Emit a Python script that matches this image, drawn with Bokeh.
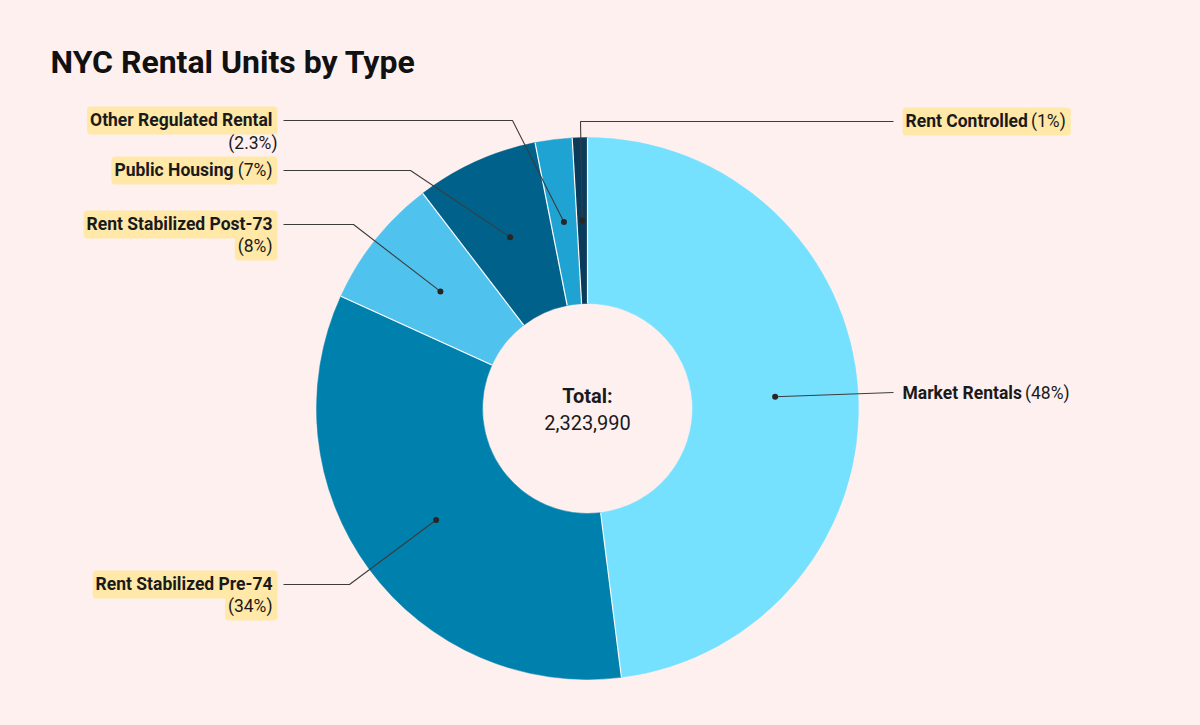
import math
from bokeh.plotting import figure
from bokeh.models import Range1d
from bokeh.core.properties import value
from bokeh.embed import file_html
from bokeh.resources import INLINE

# ---------------- data ----------------
categories = ["Market Rentals", "Rent Stabilized Pre-74", "Rent Stabilized Post-73",
              "Public Housing", "Other Regulated Rental", "Rent Controlled"]
shares = [48.0, 33.8, 7.8, 7.3, 2.2, 0.9]          # share of units, %
pct_labels = ["(48%)", "(34%)", "(8%)", "(7%)", "(2.3%)", "(1%)"]
total_units = 2323990
colors = ["#75E1FF", "#0080AC", "#4FC3EE", "#00618A", "#1FA3D3", "#0A3B5B"]

# ---------------- layout (screen px) ----------------
W, H = 1184, 709
BG = "#FFF0F0"
BOX = "#FFE8A8"
FONT = value("Roboto")


def Y(ys):
    return 725 - ys


cx, cy = 587, Y(408)
R_OUT, R_IN = 271, 105
R_DOT = (R_OUT + R_IN) / 2

# per label: side, elbow (screen), end of leader (screen), text anchor (screen), two-line?, box line1, box line2
label_layout = [
    ("right", None,       (893, 392), (902, 392), False, False, False),
    ("left",  (349, 584), (283, 584), (277, 584), True,  True,  True),
    ("left",  (353, 224), (283, 224), (277, 224), True,  True,  True),
    ("left",  (410, 170), (283, 170), (277, 170), False, True,  True),
    ("left",  (512, 120), (283, 120), (277, 120), True,  True,  False),
    ("right", (580, 121), (893, 121), (902, 121), False, True,  True),
]
LINE_GAP = 22
FS = 17.5

# approximate Roboto advance widths (em) for placing mixed bold/regular runs
REG_W = {'(': 0.341, ')': 0.348, '%': 0.73, '.': 0.263, ' ': 0.248}
BOLD_W = {' ': 0.25, 'M': 0.873, 'a': 0.536, 'r': 0.355, 'k': 0.52, 'e': 0.53, 't': 0.33,
          'R': 0.63, 'n': 0.56, 'l': 0.25, 's': 0.52, 'C': 0.65, 'o': 0.57, 'd': 0.56,
          'P': 0.63, 'u': 0.56, 'b': 0.56, 'i': 0.25, 'c': 0.52, 'H': 0.70, 'g': 0.56}


def width(txt, table, default=0.5615):
    return sum(table.get(ch, default) for ch in txt) * FS


p = figure(width=W, height=H, output_backend="svg", toolbar_location=None,
           x_range=Range1d(0, W), y_range=Range1d(725 - H, 725),
           min_border=0, background_fill_color=BG, border_fill_color=BG,
           outline_line_color=None)
p.axis.visible = False
p.grid.visible = False

# ---------------- donut ----------------
tot = sum(shares)
cum = [0.0]
for s in shares:
    cum.append(cum[-1] + s / tot)
starts = [math.pi / 2 - 2 * math.pi * c for c in cum[:-1]]
ends = [math.pi / 2 - 2 * math.pi * c for c in cum[1:]]

p.annular_wedge(x=[cx] * len(shares), y=[cy] * len(shares), inner_radius=R_IN, outer_radius=R_OUT,
                start_angle=starts, end_angle=ends, direction="clock",
                fill_color=colors, line_color=colors, line_width=0.5)

# white separators between slices
sep_a = [math.pi / 2 - 2 * math.pi * c for c in cum[:-1]]
p.segment(x0=[cx + R_IN * math.cos(a) for a in sep_a], y0=[cy + R_IN * math.sin(a) for a in sep_a],
          x1=[cx + R_OUT * math.cos(a) for a in sep_a], y1=[cy + R_OUT * math.sin(a) for a in sep_a],
          line_color="white", line_width=1.2)

# ---------------- leader lines & dots ----------------
mids = [math.pi / 2 - 2 * math.pi * (cum[i] + cum[i + 1]) / 2 for i in range(len(shares))]
dot_x = [cx + R_DOT * math.cos(a) for a in mids]
dot_y = [cy + R_DOT * math.sin(a) for a in mids]

xs, ys = [], []
for i, lay in enumerate(label_layout):
    side, elbow, end, anchor, two, b1, b2 = lay
    lx, ly = [dot_x[i]], [dot_y[i]]
    if elbow is not None:
        lx.append(elbow[0]); ly.append(Y(elbow[1]))
    lx.append(end[0]); ly.append(Y(end[1]))
    xs.append(lx); ys.append(ly)

p.multi_line(xs=xs, ys=ys, line_color="#3C3C3C", line_width=1.1)
p.scatter(x=dot_x, y=dot_y, size=6, fill_color="#262626", line_color=None)


def put(x, y, txt, align, bold, boxed):
    kw = dict(text_font=FONT, text_font_size=f"{FS}px", text_color="#1A1A1A",
              text_align=align, text_baseline="middle",
              text_font_style="bold" if bold else "normal")
    if boxed:
        kw.update(background_fill_color=BOX, padding=(3, 5, 3, 5), border_radius=4)
    p.text(x=[x], y=[y], text=[txt], **kw)


# ---------------- labels ----------------
for i, lay in enumerate(label_layout):
    side, elbow, end, anchor, two, b1, b2 = lay
    tx, ty = anchor[0], Y(anchor[1])
    name, pct = categories[i], pct_labels[i]
    if two:
        put(tx, ty, name, "right", True, b1)
        put(tx, ty - LINE_GAP, pct, "right", False, b2)
    elif side == "right":
        put(tx, ty, name, "left", True, b1)
        put(tx + width(name, BOLD_W) + 0.248 * FS, ty, pct, "left", False, b2)
    else:
        put(tx, ty, pct, "right", False, b2)
        put(tx - width(pct, REG_W) - 0.248 * FS, ty, name, "right", True, b1)

# ---------------- centre text ----------------
p.text(x=[cx], y=[Y(395)], text=["Total:"], text_font=FONT, text_font_size="20px",
       text_font_style="bold", text_color="#1A1A1A", text_align="center", text_baseline="middle")
p.text(x=[cx], y=[Y(422)], text=[f"{total_units:,}"], text_font=FONT, text_font_size="20px",
       text_color="#1A1A1A", text_align="center", text_baseline="middle")

# ---------------- title ----------------
p.text(x=[50], y=[Y(61)], text=["NYC Rental Units by Type"], text_font=FONT,
       text_font_size="32px", text_font_style="bold", text_color="#111111",
       text_align="left", text_baseline="middle")

html = file_html(p, INLINE, title="NYC Rental Units by Type")
html = html.replace("</head>", "<style>html,body{background:#FFF0F0;}</style></head>", 1)
open("out.html", "w").write(html)
